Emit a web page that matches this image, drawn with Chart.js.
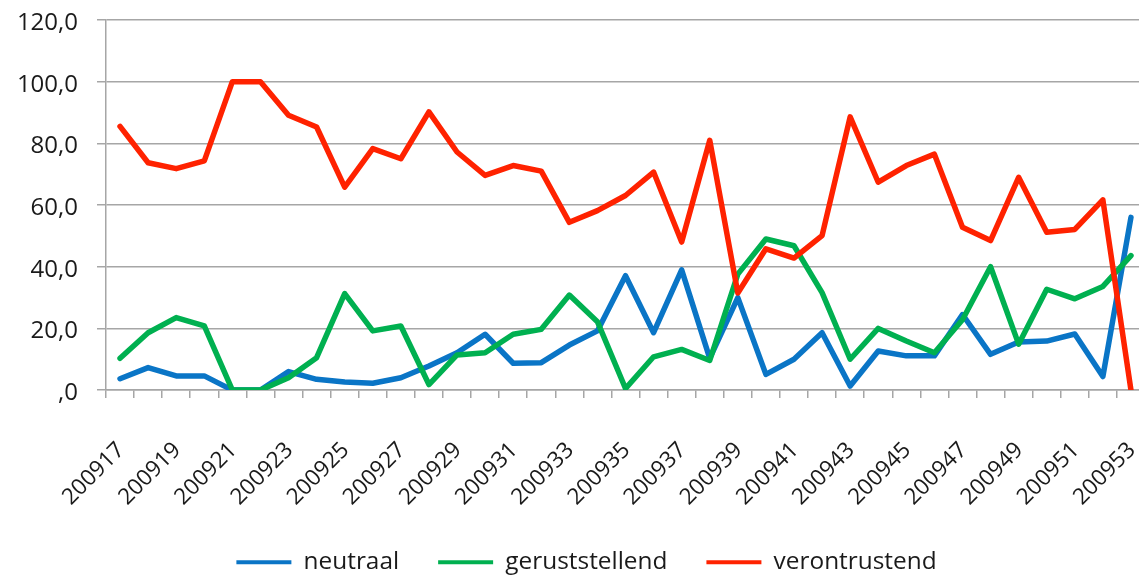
<!DOCTYPE html>
<html><head><meta charset="utf-8">
<script src="https://cdn.jsdelivr.net/npm/chart.js@4/dist/chart.umd.min.js"></script>
<style>html,body{margin:0;padding:0;overflow:hidden;background:#fff;} #wrap{width:1145px;height:575px;}</style>
</head><body><div id="wrap"><canvas id="c" width="1145" height="575"></canvas></div>
<script>
const weeks = [200917,200918,200919,200920,200921,200922,200923,200924,200925,200926,200927,200928,200929,200930,200931,200932,200933,200934,200935,200936,200937,200938,200939,200940,200941,200942,200943,200944,200945,200946,200947,200948,200949,200950,200951,200952,200953];
const neutraal = [3.7,7.3,4.6,4.6,0,0,6.0,3.5,2.6,2.2,4.0,7.8,12.1,18.1,8.7,8.9,14.6,19.2,37.1,18.6,39.0,10.3,30.0,5.1,10.0,18.6,1.3,12.7,11.1,11.1,24.5,11.6,15.6,15.9,18.2,4.4,56.0];
const geruststellend = [10.3,18.6,23.5,20.8,0,0,4.0,10.5,31.3,19.2,20.8,1.8,11.4,12.1,18.1,19.7,30.8,22.2,0.5,10.8,13.2,9.6,37.6,49.0,46.8,31.6,10.0,20.0,15.9,12.1,22.8,40.0,14.9,32.7,29.6,33.6,43.6];
const verontrustend = [85.5,73.7,71.8,74.3,100,100,89.1,85.3,65.8,78.3,75.0,90.2,77.2,69.6,72.8,71.0,54.4,58.2,63.1,70.7,48.0,81.0,31.5,45.8,42.8,50.1,88.6,67.4,72.8,76.5,52.8,48.5,69.0,51.2,52.1,61.7,0];
const yTickLabels = [',0','20,0','40,0','60,0','80,0','100,0','120,0'];

const BLUE = '#0a75c6', GREEN = '#00b050', RED = '#ff2200';
const GRID = '#a6a6a6';
const TEXT = '#1a1a1a';
const FONT = 'Open Sans';

const shiftLegend = {
  id: 'shiftLegend',
  afterLayout(chart) {
    const lg = chart.legend;
    if (lg) { lg.left += 14; lg.right += 14; }
  }
};

new Chart(document.getElementById('c'), {
  type: 'line',
  data: {
    labels: weeks.map(String),
    datasets: [
      {label: 'neutraal', data: neutraal, borderColor: BLUE, backgroundColor: BLUE, order: 2},
      {label: 'geruststellend', data: geruststellend, borderColor: GREEN, backgroundColor: GREEN, order: 1},
      {label: 'verontrustend', data: verontrustend, borderColor: RED, backgroundColor: RED, order: 0}
    ]
  },
  plugins: [shiftLegend],
  options: {
    responsive: false,
    animation: false,
    devicePixelRatio: 1,
    layout: {padding: {top: 0, right: 0, bottom: -9.5, left: 0}},
    elements: {
      line: {borderWidth: 5.5, tension: 0, borderJoinStyle: 'round', borderCapStyle: 'round', fill: false},
      point: {radius: 0, hoverRadius: 0}
    },
    plugins: {
      tooltip: {enabled: false},
      legend: {
        position: 'bottom',
        labels: {
          boxWidth: 55, boxHeight: 4, padding: 39,
          color: TEXT,
          font: {family: FONT, size: 24.4},
          sort: (a, b) => a.datasetIndex - b.datasetIndex,
          generateLabels: (chart) => Chart.defaults.plugins.legend.labels.generateLabels(chart).map(l => Object.assign(l, {lineWidth: 0}))
        }
      }
    },
    scales: {
      x: {
        offset: true,
        grid: {offset: true, drawOnChartArea: false, drawTicks: true, tickLength: 8, color: GRID, lineWidth: 1.5},
        border: {color: GRID, width: 1.5},
        ticks: {
          autoSkip: false, minRotation: 45, maxRotation: 45,
          color: TEXT, font: {family: FONT, size: 22.5},
          labelOffset: 1, padding: 39,
          callback: (v, i) => (i % 2 === 0 ? String(weeks[i]) : '')
        },
        afterFit: (s) => { s.height = 121; s.paddingLeft = 0; s.paddingRight = 0; }
      },
      y: {
        min: 0, max: 120,
        ticks: {stepSize: 20, color: TEXT, font: {family: FONT, size: 24}, padding: 19, labelOffset: 3,
          callback: (v, i) => yTickLabels[i]},
        grid: {color: GRID, lineWidth: 1.5, tickLength: 9},
        border: {color: GRID, width: 1.5},
        afterFit: (s) => { s.width = 106; s.paddingTop = 20; }
      }
    }
  }
});
</script></body></html>
